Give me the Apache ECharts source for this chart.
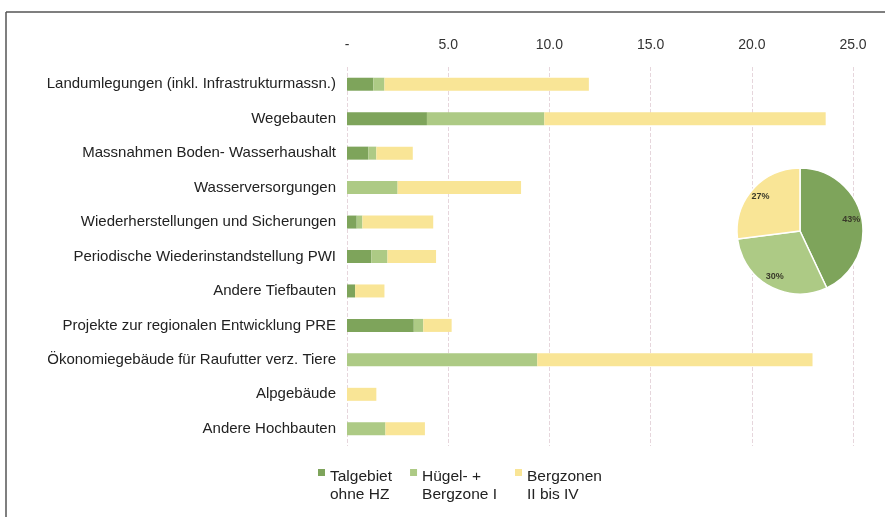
<!DOCTYPE html>
<html>
<head>
<meta charset="utf-8">
<script src="https://cdn.jsdelivr.net/npm/echarts@6/dist/echarts.min.js"></script>
<style>
	html, body { margin: 0; padding: 0; background: #fff; }
	#main { width: 885px; height: 517px; }
</style>
</head>
<body>
<div id="main"></div>
<script>
	// Kategorien (von oben nach unten)
	var categories = [
		'Landumlegungen (inkl. Infrastrukturmassn.)',
		'Wegebauten',
		'Massnahmen Boden- Wasserhaushalt',
		'Wasserversorgungen',
		'Wiederherstellungen und Sicherungen',
		'Periodische Wiederinstandstellung PWI',
		'Andere Tiefbauten',
		'Projekte zur regionalen Entwicklung PRE',
		'Ökonomiegebäude für Raufutter verz. Tiere',
		'Alpgebäude',
		'Andere Hochbauten'
	];
	var seriesNames = ['Talgebiet\nohne HZ', 'Hügel- +\nBergzone I', 'Bergzonen\nII bis IV'];
	var talgebiet = [1.3, 3.95, 1.05, 0, 0.48, 1.2, 0.4, 3.3, 0, 0, 0];
	var huegel = [0.55, 5.8, 0.4, 2.5, 0.28, 0.8, 0, 0.47, 9.4, 0, 1.9];
	var berg = [10.1, 13.9, 1.8, 6.1, 3.5, 2.4, 1.45, 1.4, 13.6, 1.45, 1.95];
	var pieShares = [43, 30, 27];
	var xTicks = [0, 5, 10, 15, 20, 25];

	var colors = ['#7ea45b', '#adca85', '#f9e596'];
	var font = 'Liberation Sans, Arial, sans-serif';

	var chart = echarts.init(document.getElementById('main'));

	var barValues = [talgebiet, huegel, berg];
	var barSeries = [];
	for (var i = 0; i < 3; i++) {
		barSeries.push({
			name: seriesNames[i],
			type: 'bar',
			stack: 'total',
			barWidth: 13,
			itemStyle: { color: colors[i] },
			data: barValues[i]
		});
	}

	var pieData = [];
	for (var j = 0; j < pieShares.length; j++) {
		pieData.push({ name: seriesNames[j], value: pieShares[j] });
	}

	var option = {
		animation: false,
		color: colors,
		textStyle: { fontFamily: font },
		graphic: [
			{ type: 'line', shape: { x1: 6, y1: 12, x2: 885, y2: 12 }, style: { stroke: '#555', lineWidth: 1.5 } },
			{ type: 'line', shape: { x1: 6, y1: 12, x2: 6, y2: 517 }, style: { stroke: '#555', lineWidth: 1.5 } }
		],
		grid: { left: 347, right: 32, top: 67, bottom: 71 },
		legend: {
			data: seriesNames,
			left: 313,
			top: 463,
			itemWidth: 7,
			itemHeight: 36,
			itemGap: 18,
			icon: 'path://M0,0h0.01v0.01h-0.01z M0,1h7v7h-7z M0,36h0.01v0.01h-0.01z',
			textStyle: { fontSize: 15.5, color: '#222', lineHeight: 18, fontFamily: font }
		},
		xAxis: {
			type: 'value',
			position: 'top',
			min: xTicks[0],
			max: xTicks[xTicks.length - 1],
			interval: 5,
			axisLine: { show: false },
			axisTick: { show: false },
			axisLabel: {
				margin: 15,
				fontSize: 14,
				color: '#333',
				formatter: function (v) { return v === 0 ? '-' : v.toFixed(1); }
			},
			splitLine: { show: true, lineStyle: { color: '#e6d6dc', type: 'dashed', width: 1 } }
		},
		yAxis: {
			type: 'category',
			inverse: true,
			data: categories,
			axisLine: { show: false },
			axisTick: { show: false },
			axisLabel: { margin: 11, fontSize: 15, color: '#222' }
		},
		series: barSeries.concat([
			{
				type: 'pie',
				center: [800, 231],
				radius: [0, 63],
				startAngle: 90,
				silent: true,
				label: { show: false },
				labelLine: { show: false },
				itemStyle: { borderColor: '#fff', borderWidth: 1.5 },
				data: pieData
			},
			{
				// nur für die Prozent-Beschriftungen
				type: 'pie',
				center: [800, 231],
				radius: [36, 63],
				startAngle: 90,
				silent: true,
				itemStyle: { color: 'rgba(0,0,0,0)' },
				label: {
					show: true,
					position: 'inside',
					formatter: '{c}%',
					fontSize: 9,
					fontWeight: 'bold',
					color: '#3a3a2a'
				},
				labelLine: { show: false },
				data: pieData
			}
		])
	};

	chart.setOption(option);
</script>
</body>
</html>
